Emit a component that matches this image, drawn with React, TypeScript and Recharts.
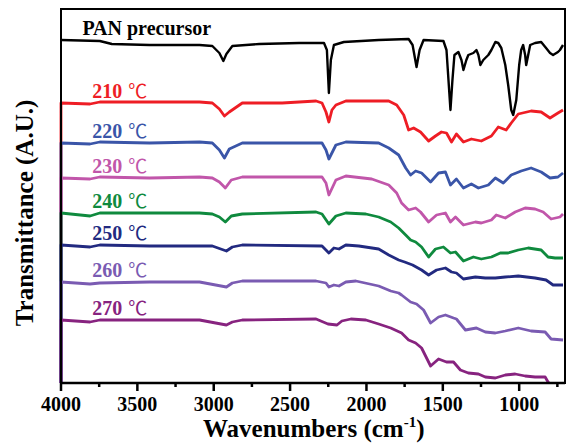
import { LineChart, Line, XAxis, YAxis, ReferenceDot } from 'recharts';

type Pt = [number, number];

const SERIF = "'Liberation Serif', 'Times New Roman', serif";

// wavenumber (cm-1), stacked transmittance (arbitrary units)
const pan: Pt[] = [
  [4000, 343], [3746, 342], [3667, 339], [3420, 338], [3093, 338], [3009, 337], [2963, 330], [2937, 322],
  [2917, 329], [2878, 337], [2702, 339], [2441, 340], [2278, 340], [2259, 333], [2246, 290], [2233, 323],
  [2213, 338], [2148, 341], [1920, 343], [1724, 344], [1698, 338], [1672, 316], [1652, 333], [1626, 343],
  [1496, 342], [1476, 333], [1463, 303], [1450, 273], [1437, 303], [1424, 328], [1398, 331], [1378, 323],
  [1365, 313], [1346, 323], [1333, 328], [1300, 330], [1280, 333], [1267, 328], [1254, 318], [1235, 323],
  [1202, 328], [1182, 333], [1156, 341], [1137, 340], [1117, 335], [1091, 318], [1072, 298], [1052, 273],
  [1039, 268], [1019, 283], [1000, 318], [987, 333], [974, 338], [961, 328], [954, 318], [941, 328],
  [928, 338], [896, 340], [856, 341], [824, 335], [798, 330], [778, 328], [746, 331], [733, 333], [713, 338],
];

const t210: Pt[] = [
  [4000, 0], [4000, 280], [3810, 279], [3746, 281], [3420, 281], [3093, 281], [3009, 280], [2963, 274],
  [2930, 267], [2898, 271], [2813, 280], [2552, 280], [2330, 282], [2291, 280], [2265, 271], [2246, 261],
  [2226, 273], [2200, 278], [2135, 282], [2004, 282], [1854, 282], [1802, 278], [1756, 268], [1724, 253],
  [1691, 255], [1646, 251], [1593, 242], [1548, 247], [1509, 251], [1476, 250], [1443, 241], [1411, 249],
  [1365, 241], [1313, 244], [1248, 242], [1182, 247], [1137, 256], [1085, 253], [1052, 260], [1006, 269],
  [922, 272], [856, 271], [798, 265], [746, 270], [713, 273],
];

const t220: Pt[] = [
  [4000, 0], [4000, 240], [3810, 239], [3746, 241], [3420, 240], [3093, 241], [3009, 240], [2963, 233],
  [2930, 225], [2898, 234], [2813, 240], [2441, 240], [2291, 240], [2265, 233], [2246, 224], [2200, 238],
  [2135, 241], [1920, 240], [1854, 235], [1789, 228], [1743, 215], [1711, 208], [1678, 212], [1639, 210],
  [1580, 201], [1528, 210], [1483, 211], [1450, 198], [1411, 204], [1365, 195], [1313, 199], [1267, 195],
  [1202, 198], [1156, 205], [1104, 200], [1052, 208], [987, 212], [922, 215], [856, 211], [798, 205],
  [746, 206], [713, 210],
];

const t230: Pt[] = [
  [4000, 0], [4000, 205], [3810, 204], [3746, 206], [3420, 205], [3093, 206], [3009, 205], [2963, 201],
  [2924, 195], [2885, 203], [2813, 206], [2291, 206], [2265, 200], [2246, 188], [2200, 203], [2135, 207],
  [1965, 204], [1854, 198], [1802, 190], [1770, 180], [1724, 173], [1678, 175], [1646, 171], [1593, 161],
  [1541, 168], [1483, 170], [1450, 161], [1417, 166], [1365, 158], [1287, 161], [1248, 160], [1182, 163],
  [1150, 168], [1091, 165], [1026, 171], [961, 175], [896, 174], [843, 171], [791, 164], [733, 166],
  [713, 169],
];

const t240: Pt[] = [
  [4000, 0], [4000, 170], [3810, 167], [3746, 170], [3420, 170], [3093, 170], [3009, 169], [2963, 166],
  [2924, 161], [2885, 167], [2813, 169], [2330, 171], [2291, 169], [2246, 159], [2200, 167], [2135, 170],
  [2004, 169], [1920, 166], [1841, 161], [1789, 155], [1743, 148], [1711, 143], [1678, 141], [1639, 136],
  [1593, 126], [1548, 134], [1496, 136], [1450, 130], [1417, 131], [1365, 122], [1300, 126], [1248, 124],
  [1182, 126], [1124, 130], [1072, 130], [1006, 133], [941, 135], [856, 133], [811, 126], [765, 125],
  [713, 125],
];

const t250: Pt[] = [
  [4000, 0], [4000, 138], [3810, 136], [3746, 138], [3420, 137], [3093, 137], [3009, 137], [2917, 132],
  [2878, 136], [2813, 138], [2291, 137], [2246, 130], [2213, 135], [2180, 134], [2135, 138], [2050, 137],
  [1920, 134], [1854, 128], [1789, 123], [1750, 121], [1698, 118], [1639, 113], [1593, 108], [1541, 113],
  [1483, 115], [1443, 111], [1411, 110], [1365, 104], [1287, 106], [1222, 105], [1156, 105], [1091, 106],
  [1006, 107], [896, 105], [824, 103], [778, 98], [713, 98],
];

const t260: Pt[] = [
  [4000, 0], [4000, 101], [3810, 99], [3746, 100], [3420, 101], [3093, 101], [2917, 96], [2878, 100],
  [2813, 102], [2330, 102], [2265, 100], [2246, 96], [2213, 98], [2180, 97], [2135, 101], [2069, 102],
  [1920, 97], [1841, 92], [1789, 90], [1770, 88], [1711, 81], [1672, 79], [1626, 73], [1580, 60],
  [1528, 66], [1483, 68], [1430, 65], [1411, 64], [1352, 53], [1280, 55], [1222, 51], [1156, 50],
  [1091, 52], [1006, 55], [922, 52], [830, 51], [791, 44], [713, 43],
];

const t270: Pt[] = [
  [4000, 0], [4000, 63], [3810, 61], [3746, 63], [3093, 63], [2917, 58], [2878, 61], [2813, 63],
  [2330, 64], [2252, 59], [2193, 58], [2161, 62], [2102, 64], [2004, 63], [1920, 59], [1841, 55],
  [1770, 50], [1724, 43], [1678, 40], [1639, 35], [1580, 17], [1528, 24], [1476, 21], [1430, 21],
  [1385, 13], [1333, 10], [1267, 9], [1222, 6], [1156, 5], [1091, 8], [1026, 9], [961, 7],
  [896, 6], [830, 6], [811, 1], [805, 0],
];

const WN_DOMAIN = [700, 4000];
const T_DOMAIN = [0, 374];
const WN_TICKS = [4000, 3750, 3500, 3250, 3000, 2750, 2500, 2250, 2000, 1750, 1500, 1250, 1000, 750];

const SERIES = [
  { key: 'pan', name: 'PAN precursor', unit: '', color: '#000000', width: 2.4, points: pan, labelAt: 3860 },
  { key: 't210', name: '210', unit: '℃', color: '#ee1d25', width: 2.8, points: t210, labelAt: 3795 },
  { key: 't220', name: '220', unit: '℃', color: '#3a55a8', width: 2.8, points: t220, labelAt: 3795 },
  { key: 't230', name: '230', unit: '℃', color: '#c156aa', width: 2.8, points: t230, labelAt: 3795 },
  { key: 't240', name: '240', unit: '℃', color: '#0f8a3e', width: 2.8, points: t240, labelAt: 3795 },
  { key: 't250', name: '250', unit: '℃', color: '#222a80', width: 2.8, points: t250, labelAt: 3795 },
  { key: 't260', name: '260', unit: '℃', color: '#7a5bb2', width: 2.8, points: t260, labelAt: 3795 },
  { key: 't270', name: '270', unit: '℃', color: '#87237f', width: 2.8, points: t270, labelAt: 3795 },
];

const W = 567;
const H = 445;
const M = { top: 9, right: 2, bottom: 12, left: 61 };
const X_AXIS_H = 50;

const rows = (pts: Pt[]) => pts.map(([wn, t]) => ({ wn, t }));
const startLevel = (pts: Pt[]) => pts.find((p) => p[1] > 0)![1];

function WnTick({ x, y, payload }: any) {
  const major = payload.value % 500 === 0;
  return (
    <g>
      <line x1={x} x2={x} y1={y} y2={y + (major ? 8 : 4)} stroke="#000" strokeWidth={2.5} />
      {major && (
        <text x={x} y={y + 28} textAnchor="middle" fontFamily={SERIF} fontWeight="bold" fontSize={20} fill="#000">
          {payload.value}
        </text>
      )}
    </g>
  );
}

const frame = { stroke: '#000', strokeWidth: 2.6 };

export default function App() {
  const plotW = W - M.left - M.right;
  const plotH = H - M.top - M.bottom - X_AXIS_H;
  return (
    <div style={{ position: 'absolute', left: 0, top: 0, width: W, height: H, background: '#fff' }}>
      <LineChart width={W} height={H} margin={M}>
        <XAxis
          dataKey="wn"
          type="number"
          domain={WN_DOMAIN}
          reversed
          ticks={WN_TICKS}
          interval={0}
          height={X_AXIS_H}
          tickSize={0}
          tickMargin={0}
          tickLine={false}
          axisLine={frame}
          tick={<WnTick />}
        />
        <XAxis
          xAxisId="top"
          dataKey="wn"
          orientation="top"
          type="number"
          domain={WN_DOMAIN}
          reversed
          height={0}
          tick={false}
          tickLine={false}
          axisLine={frame}
        />
        <YAxis type="number" domain={T_DOMAIN} width={0} tick={false} tickLine={false} axisLine={frame} />
        <YAxis
          yAxisId="right"
          orientation="right"
          type="number"
          domain={T_DOMAIN}
          width={0}
          tick={false}
          tickLine={false}
          axisLine={frame}
        />
        {/* invisible copy bound to the top/right axes so those frame axes get drawn */}
        <Line
          xAxisId="top"
          yAxisId="right"
          data={rows(pan)}
          dataKey="t"
          stroke="none"
          strokeWidth={0}
          dot={false}
          activeDot={false}
          legendType="none"
          isAnimationActive={false}
        />
        {SERIES.map((s) => (
          <Line
            key={s.key}
            data={rows(s.points)}
            dataKey="t"
            name={s.name}
            type="linear"
            stroke={s.color}
            strokeWidth={s.width}
            strokeLinejoin="round"
            dot={false}
            activeDot={false}
            isAnimationActive={false}
          />
        ))}
        {SERIES.map((s) => (
          <ReferenceDot
            key={'lbl' + s.key}
            x={s.labelAt}
            y={startLevel(s.points)}
            r={0}
            fill="none"
            stroke="none"
            label={(p: any) => (
              <text x={p.viewBox.x} y={p.viewBox.y - 5} fill={s.color} fontFamily={SERIF} fontWeight="bold" fontSize={20}>
                {s.name}
                {s.unit && (
                  <tspan dx={6} fontFamily="'Noto Sans CJK SC', sans-serif" fontWeight="normal" fontSize={19}>
                    {s.unit}
                  </tspan>
                )}
              </text>
            )}
          />
        ))}
      </LineChart>
      <div
        style={{
          position: 'absolute',
          left: M.left - 1.3,
          top: M.top - 1.3,
          width: plotW + 2.6,
          height: plotH + 2.6,
          border: '2.6px solid #000',
          boxSizing: 'border-box',
          pointerEvents: 'none',
        }}
      />
      <svg width={W} height={H} style={{ position: 'absolute', left: 0, top: 0, pointerEvents: 'none' }}>
        <text transform="rotate(-90)" x={-213} y={33} textAnchor="middle" fontFamily={SERIF} fontWeight="bold" fontSize={25} fill="#000">
          Transmittance (A.U.)
        </text>
        <text x={203} y={437} fontFamily={SERIF} fontWeight="bold" fontSize={25} fill="#000">
          Wavenumbers (cm
          <tspan dy={-10} fontSize={15}>-1</tspan>
          <tspan dy={10}>)</tspan>
        </text>
      </svg>
    </div>
  );
}
